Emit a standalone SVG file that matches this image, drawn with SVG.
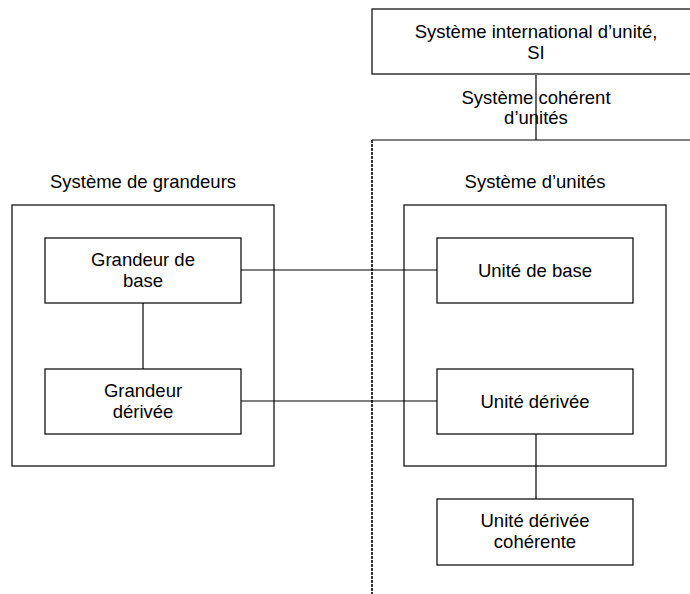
<svg xmlns="http://www.w3.org/2000/svg" width="690" height="594" viewBox="0 0 690 594">
<style>
.box{fill:#fff;stroke:#000;stroke-width:1.2}
.frame{fill:none;stroke:#000;stroke-width:1.2}
.ln{stroke:#000;stroke-width:1.2;fill:none}
.dash{stroke:#000;stroke-width:1.6;stroke-dasharray:3,1;fill:none}
text{font-family:"Liberation Sans",Arial,sans-serif;font-size:18.5px;fill:#000;text-anchor:middle}
</style>
<rect width="690" height="594" fill="#fff"/>
<g id="connectors">
<line class="ln" x1="536" y1="75" x2="536" y2="140"/>
<line class="ln" x1="372" y1="140" x2="692" y2="140"/>
<line class="dash" x1="372" y1="140" x2="372" y2="594"/>
<line class="ln" x1="143" y1="303" x2="143" y2="369"/>
<line class="ln" x1="241" y1="270" x2="437" y2="270"/>
<line class="ln" x1="241" y1="401" x2="437" y2="401"/>
<line class="ln" x1="536" y1="434" x2="536" y2="499"/>
</g>
<g id="si">
<rect class="box" x="372" y="9" width="320" height="65"/>
<text x="536" y="38">Système international d’unité,</text>
<text x="536" y="59">SI</text>
</g>
<g id="coherent-label">
<text x="536" y="104">Système cohérent</text>
<text x="536" y="124">d’unités</text>
</g>
<g id="systeme-grandeurs">
<text x="143" y="188">Système de grandeurs</text>
<rect class="frame" x="12" y="205" width="262" height="261"/>
</g>
<g id="systeme-unites">
<text x="535" y="188">Système d’unités</text>
<rect class="frame" x="404" y="205" width="262" height="261"/>
</g>
<g id="grandeur-base">
<rect class="box" x="45" y="238" width="196" height="65"/>
<text x="143" y="266">Grandeur de</text>
<text x="143" y="287">base</text>
</g>
<g id="grandeur-derivee">
<rect class="box" x="45" y="369" width="196" height="65"/>
<text x="143" y="397">Grandeur</text>
<text x="143" y="418">dérivée</text>
</g>
<g id="unite-base">
<rect class="box" x="437" y="238" width="196" height="65"/>
<text x="535" y="277">Unité de base</text>
</g>
<g id="unite-derivee">
<rect class="box" x="437" y="369" width="196" height="65"/>
<text x="535" y="408">Unité dérivée</text>
</g>
<g id="unite-derivee-coherente">
<rect class="box" x="437" y="499" width="196" height="66"/>
<text x="535" y="527">Unité dérivée</text>
<text x="535" y="548">cohérente</text>
</g>
</svg>
